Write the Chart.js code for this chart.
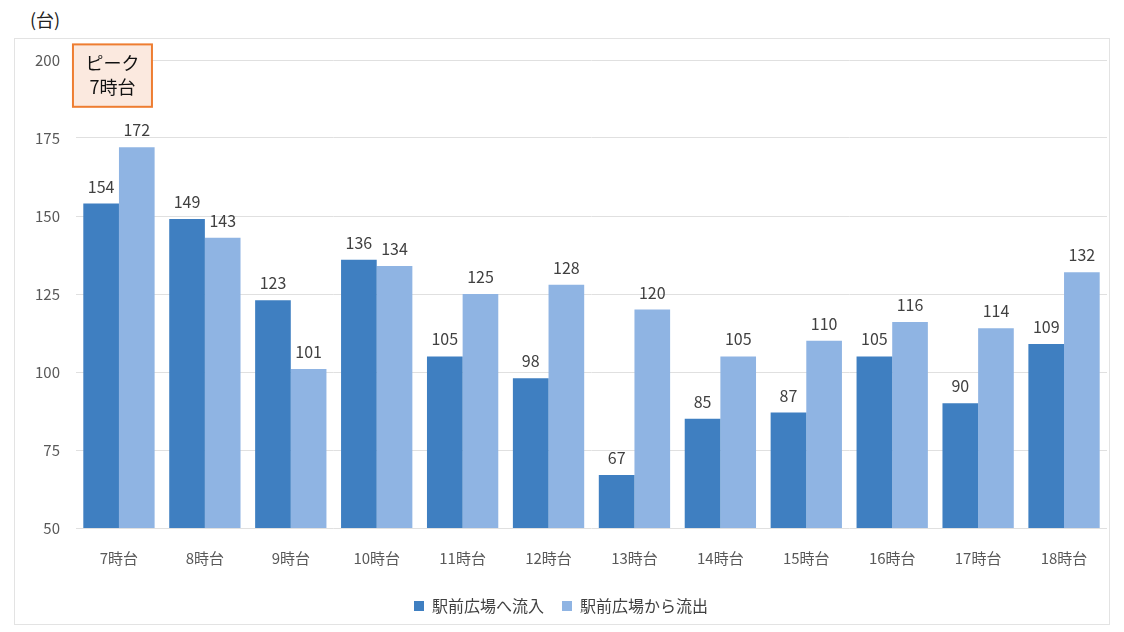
<!DOCTYPE html>
<html lang="ja">
<head>
<meta charset="utf-8">
<script src="https://cdn.jsdelivr.net/npm/chart.js@4"></script>
<style>
  body { margin: 0; background: #fff; width: 1124px; height: 632px; position: relative; overflow: hidden;
         font-family: "Noto Sans CJK JP", "Noto Sans", sans-serif; }
  #unit { position: absolute; left: 30px; top: 6px; font-size: 18px; color: #222; }
  #frame { position: absolute; left: 14px; top: 38px; width: 1096px; height: 587px;
           border: 1px solid #e3e3e3; box-sizing: border-box; }
  #chartFlow { display: block; }
</style>
</head>
<body>
<div id="unit">(台)</div>
<div id="frame"><canvas id="chartFlow" width="1094" height="585"></canvas></div>
<script>
const hours = ['7時台', '8時台', '9時台', '10時台', '11時台', '12時台', '13時台', '14時台', '15時台', '16時台', '17時台', '18時台'];
const inflow = [154, 149, 123, 136, 105, 98, 67, 85, 87, 105, 90, 109];
const outflow = [172, 143, 101, 134, 125, 128, 120, 105, 110, 116, 114, 132];
const yTicks = [50, 75, 100, 125, 150, 175, 200];

const FONT = '"Noto Sans CJK JP", "Noto Sans", sans-serif';

// values above each bar
const valueLabels = {
  id: 'valueLabels',
  afterDatasetsDraw(chart) {
    const ctx = chart.ctx;
    ctx.save();
    ctx.font = '16px ' + FONT;
    ctx.fillStyle = '#404040';
    ctx.textAlign = 'center';
    ctx.textBaseline = 'bottom';
    chart.data.datasets.forEach((ds, i) => {
      chart.getDatasetMeta(i).data.forEach((bar, j) => {
        ctx.fillText(ds.data[j], bar.x, bar.y - 9);
      });
    });
    ctx.restore();
  }
};

// "ピーク 7時台" callout
const peakBox = {
  id: 'peakBox',
  afterDraw(chart) {
    const x = chart.scales.x, y = chart.scales.y, ctx = chart.ctx;
    const cx = x.getPixelForValue(0);
    const left = cx - 46, right = cx + 33;
    const top = y.getPixelForValue(205), bottom = y.getPixelForValue(185);
    ctx.save();
    ctx.fillStyle = '#fbe9df';
    ctx.strokeStyle = '#ee7d31';
    ctx.lineWidth = 2;
    ctx.fillRect(left, top, right - left, bottom - top);
    ctx.strokeRect(left, top, right - left, bottom - top);
    ctx.fillStyle = '#111';
    ctx.font = '18px ' + FONT;
    ctx.textAlign = 'center';
    ctx.textBaseline = 'middle';
    const mid = (left + right) / 2, h = bottom - top;
    ctx.fillText('ピーク', mid, top + h * 0.3);
    ctx.fillText('7時台', mid, top + h * 0.69);
    ctx.restore();
  }
};

new Chart(document.getElementById('chartFlow'), {
  type: 'bar',
  data: {
    labels: hours,
    datasets: [
      { label: '駅前広場へ流入', data: inflow, backgroundColor: '#3f7fc1' },
      { label: '駅前広場から流出', data: outflow, backgroundColor: '#8fb4e3' }
    ]
  },
  options: {
    responsive: false,
    animation: false,
    devicePixelRatio: 1,
    layout: { padding: { left: 0, top: 21, right: 2, bottom: 0 } },
    datasets: { bar: { categoryPercentage: 0.83, barPercentage: 1.0 } },
    plugins: {
      legend: {
        position: 'bottom',
        labels: { boxWidth: 10, boxHeight: 10, color: '#404040', font: { family: FONT, size: 16 }, padding: 18 }
      },
      tooltip: { enabled: false }
    },
    scales: {
      x: {
        grid: { display: false },
        border: { display: false },
        ticks: { color: '#595959', font: { family: FONT, size: 15 }, padding: 13, maxRotation: 0 }
      },
      y: {
        min: 50, max: 200,
        afterBuildTicks(scale) { scale.ticks = yTicks.map(v => ({ value: v })); },
        afterFit(scale) { scale.width = 61; scale.paddingTop = 0; },
        grid: { color: '#e0e0e0', drawTicks: false },
        border: { display: false },
        ticks: { color: '#595959', font: { family: FONT, size: 15 }, padding: 16 }
      }
    }
  },
  plugins: [valueLabels, peakBox]
});
</script>
</body>
</html>
